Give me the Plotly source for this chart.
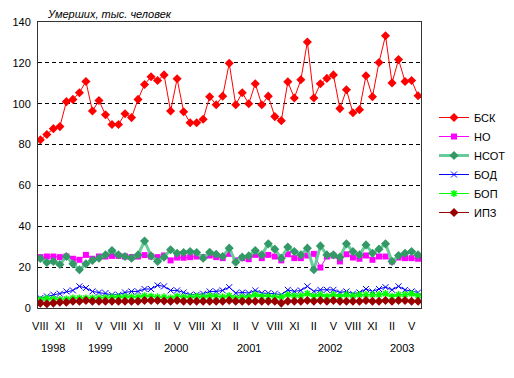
import plotly.graph_objects as go

# ---- data (monthly, Aug 1998 .. Jun 2003) ----
roman = ["I", "II", "III", "IV", "V", "VI", "VII", "VIII", "IX", "X", "XI", "XII"]
n_months = 59
months = [roman[(7 + i) % 12] for i in range(n_months)]
years = ["1998", "1999", "2000", "2001", "2002", "2003"]

bsk = [82.3, 84.9, 87.8, 88.8, 101.0, 102.1, 105.4, 110.9, 96.4, 101.6,
       94.6, 89.8, 89.8, 95.1, 93.2, 102.1, 109.4, 113.2, 111.4, 114.1,
       96.4, 112.2, 96.1, 90.7, 90.7, 92.4, 103.4, 99.5, 103.7, 119.8,
       99.5, 105.4, 100.0, 109.8, 99.5, 103.7, 93.7, 91.7, 110.7, 102.8,
       111.7, 130.2, 102.8, 109.8, 112.4, 114.1, 97.6, 106.8, 95.6, 97.1,
       113.7, 103.4, 120.2, 133.3, 110.2, 121.6, 110.9, 111.4, 103.9]

no = [24.9, 25.2, 25.2, 24.9, 25.2, 24.1, 23.6, 26.0, 24.1, 25.2,
      25.2, 25.5, 25.5, 25.2, 24.9, 25.2, 25.9, 25.2, 24.9, 25.7,
      23.3, 24.7, 24.6, 24.9, 25.2, 24.9, 25.7, 24.9, 24.4, 26.5,
      23.3, 24.4, 23.9, 26.0, 24.4, 26.0, 25.2, 23.3, 26.3, 24.4,
      24.4, 25.7, 26.5, 19.8, 25.2, 25.7, 22.8, 26.3, 24.7, 24.1,
      25.7, 23.6, 25.2, 25.2, 22.8, 24.7, 24.4, 24.4, 24.1]

nsot = [24.2, 22.3, 22.8, 21.3, 25.2, 21.6, 18.7, 21.6, 23.3, 24.4,
        26.0, 28.1, 26.0, 25.2, 24.4, 26.0, 32.8, 25.5, 22.8, 24.9,
        28.5, 26.8, 27.2, 27.6, 27.2, 24.4, 27.3, 26.3, 25.2, 29.3,
        22.4, 24.9, 25.5, 28.1, 26.0, 31.4, 28.8, 24.4, 29.8, 27.6,
        26.0, 29.3, 18.7, 30.4, 26.0, 26.0, 24.9, 31.4, 27.6, 26.0,
        30.9, 26.8, 28.8, 31.4, 22.8, 25.7, 26.8, 27.6, 26.0]

bod = [4.9, 5.7, 6.5, 7.0, 8.1, 8.6, 10.6, 9.8, 8.1, 7.6,
       7.3, 6.5, 6.5, 7.6, 8.1, 8.1, 9.3, 9.3, 11.1, 10.6,
       8.6, 8.6, 7.6, 6.5, 6.5, 7.0, 8.1, 8.1, 8.6, 10.2,
       7.3, 7.6, 7.3, 8.6, 7.3, 7.3, 7.0, 6.5, 8.9, 8.1,
       8.6, 10.6, 8.1, 8.9, 8.9, 8.9, 7.6, 8.1, 7.0, 7.6,
       9.3, 8.1, 9.3, 10.2, 8.9, 10.6, 8.9, 8.1, 7.6]

bop = [4.1, 4.7, 4.4, 4.1, 4.4, 4.9, 4.9, 4.9, 4.9, 4.9,
       5.0, 5.4, 5.4, 5.4, 5.4, 5.4, 6.0, 5.7, 5.4, 5.4,
       4.9, 5.7, 5.4, 5.4, 5.7, 5.4, 6.0, 5.7, 5.4, 6.0,
       4.9, 5.4, 5.4, 6.5, 5.7, 5.7, 5.4, 5.4, 6.5, 6.0,
       6.0, 7.0, 5.7, 6.5, 5.7, 6.5, 5.7, 6.5, 6.0, 6.5,
       6.5, 6.5, 6.5, 7.0, 5.7, 6.5, 6.5, 7.0, 6.0]

ipz = [2.4, 2.1, 2.4, 2.8, 2.8, 3.3, 3.3, 3.7, 3.3, 3.3,
       3.3, 3.3, 3.3, 3.3, 3.3, 3.3, 3.7, 3.7, 3.7, 3.4,
       3.3, 3.7, 3.3, 3.3, 3.3, 3.3, 3.3, 3.3, 3.3, 3.7,
       3.3, 3.3, 3.3, 3.3, 3.3, 3.3, 3.3, 2.4, 3.3, 3.3,
       3.3, 3.7, 3.3, 3.7, 3.3, 3.7, 3.3, 3.3, 3.3, 3.3,
       3.7, 3.3, 3.3, 3.7, 3.3, 3.7, 3.7, 3.3, 3.3]

x = list(range(n_months))
FONT = "Liberation Sans, Arial, sans-serif"

fig = go.Figure()

fig.add_trace(go.Scatter(x=x, y=bsk, name="БСК", mode="lines+markers",
                         line=dict(color="#FF0000", width=1),
                         marker=dict(symbol="diamond", size=7, color="#FF0000")))
fig.add_trace(go.Scatter(x=x, y=no, name="НО", mode="lines+markers",
                         line=dict(color="#FF00FF", width=1),
                         marker=dict(symbol="square", size=6, color="#FF00FF")))
fig.add_trace(go.Scatter(x=x, y=nsot, name="НСОТ", mode="lines+markers",
                         line=dict(color="#66CC99", width=3),
                         marker=dict(symbol="diamond", size=7, color="#339966")))
fig.add_trace(go.Scatter(x=x, y=bod, name="БОД", mode="lines+markers",
                         line=dict(color="#0000FF", width=1),
                         marker=dict(symbol="x-thin-open", size=6,
                                     line=dict(color="#0000FF", width=1))))
fig.add_trace(go.Scatter(x=x, y=bop, name="БОП", mode="lines+markers",
                         line=dict(color="#00FF00", width=1),
                         marker=dict(symbol="asterisk-open", size=6,
                                     line=dict(color="#00FF00", width=1.5))))
fig.add_trace(go.Scatter(x=x, y=ipz, name="ИПЗ", mode="lines+markers",
                         line=dict(color="#990000", width=1),
                         marker=dict(symbol="diamond", size=7, color="#990000")))

# year labels under the month ticks
year_pos = [2.0, 9.2, 20.8, 32.1, 44.4, 55.5]
annotations = [dict(x=p, y=0, xref="x", yref="paper", text=t, showarrow=False,
                    yanchor="middle", yshift=-40,
                    font=dict(family=FONT, size=11, color="black"))
               for p, t in zip(year_pos, years)]
annotations.append(dict(x=0.017, y=1, xref="paper", yref="paper",
                        text="<i>Умерших, тыс. человек</i>", showarrow=False,
                        xanchor="left", yanchor="middle", yshift=8,
                        font=dict(family=FONT, size=11, color="black")))

fig.update_layout(
    width=514, height=378,
    margin=dict(l=33, r=85, t=22, b=70),
    paper_bgcolor="white", plot_bgcolor="white",
    font=dict(family=FONT, size=11, color="black"),
    showlegend=True,
    legend=dict(xref="container", yref="container", x=434 / 514, y=1 - 103 / 378,
                xanchor="left", yanchor="top", bgcolor="rgba(0,0,0,0)",
                font=dict(family=FONT, size=11), itemwidth=30),
    annotations=annotations,
    xaxis=dict(range=[-0.36, 58.45], tickmode="array",
               tickvals=x[::3], ticktext=months[::3],
               showgrid=False, zeroline=False, ticks="",
               showline=True, linecolor="#333333", linewidth=1, mirror=True,
               ticklabelstandoff=8, tickfont=dict(size=11)),
    yaxis=dict(range=[0, 140], tickvals=[0, 20, 40, 60, 80, 100, 120, 140],
               showgrid=True, gridcolor="black", griddash="4px,3px", gridwidth=1,
               zeroline=False, ticks="",
               showline=True, linecolor="#333333", linewidth=1, mirror=True,
               ticklabelstandoff=4, tickfont=dict(size=11)),
)

fig.write_html("out.html", config={"displayModeBar": False},
               post_script="document.body.style.margin='0';document.body.style.padding='0';")
